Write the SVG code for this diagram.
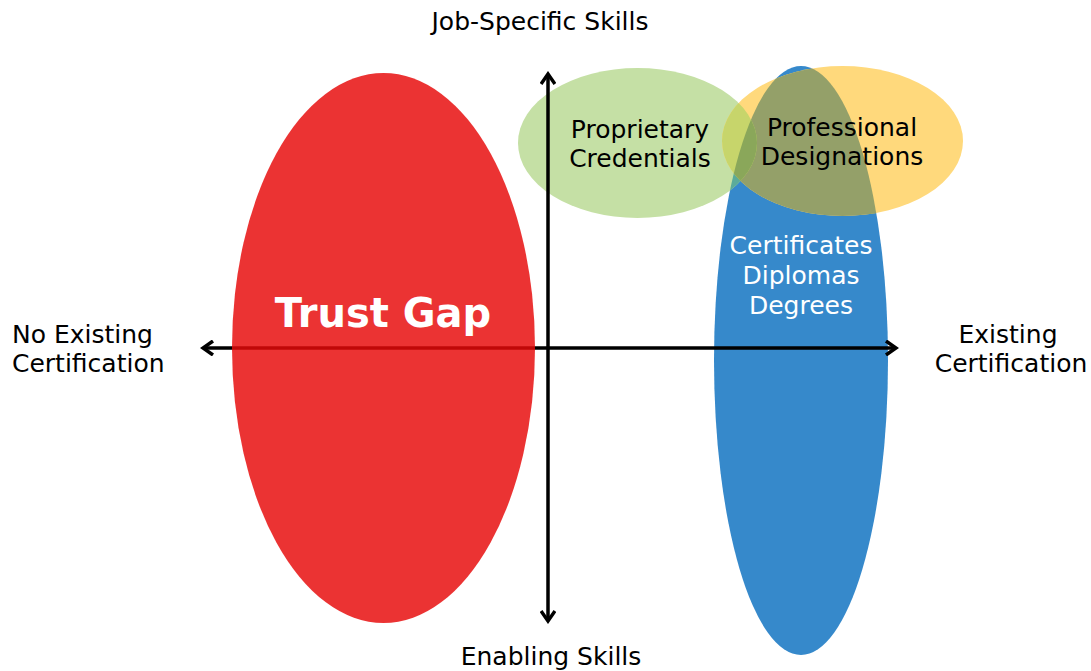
<svg xmlns="http://www.w3.org/2000/svg" width="1091" height="671" viewBox="0 0 1091 671">
<style>
text{font-family:"DejaVu Sans","Liberation Sans",sans-serif;font-size:25px;text-anchor:middle;fill:#000}
.w{fill:#fff}
.axis{stroke:#000;stroke-width:3.5;fill:none}
</style>
<defs>
<marker id="ah" viewBox="0 0 16 16" refX="13" refY="8" markerWidth="16" markerHeight="16" markerUnits="userSpaceOnUse" orient="auto-start-reverse">
<path d="M3,1 L13,8 L3,15" fill="none" stroke="#000" stroke-width="3.5"/>
</marker>
<clipPath id="cBlue"><ellipse cx="801" cy="360.5" rx="87" ry="294.5"/></clipPath>
<clipPath id="cGreen"><ellipse cx="637.5" cy="143" rx="119.5" ry="75"/></clipPath>
<clipPath id="cYellow"><ellipse cx="842.5" cy="141" rx="120.5" ry="75"/></clipPath>
</defs>
<g id="node-blue"><ellipse cx="801" cy="360.5" rx="87" ry="294.5" fill="#3689cb"/></g>
<g id="node-green"><ellipse cx="637.5" cy="143" rx="119.5" ry="75" fill="#c5e0a5"/></g>
<g id="node-yellow"><ellipse cx="842.5" cy="141" rx="120.5" ry="75" fill="#ffd97c"/></g>
<g id="overlaps">
<g clip-path="url(#cBlue)"><ellipse cx="637.5" cy="143" rx="119.5" ry="75" fill="#5bab9a"/><ellipse cx="842.5" cy="141" rx="120.5" ry="75" fill="#94a069"/></g>
<g clip-path="url(#cGreen)"><ellipse cx="842.5" cy="141" rx="120.5" ry="75" fill="#c7d56b"/><g clip-path="url(#cBlue)"><ellipse cx="842.5" cy="141" rx="120.5" ry="75" fill="#8aa75a"/></g></g>
</g>
<g id="connectors">
<line class="axis" x1="203" y1="348" x2="896" y2="348" marker-start="url(#ah)" marker-end="url(#ah)"/>
<line class="axis" x1="548" y1="74" x2="548" y2="621" marker-start="url(#ah)" marker-end="url(#ah)"/>
</g>
<g id="node-red"><ellipse cx="383.5" cy="348" rx="151.5" ry="275" fill="#e70a0a" fill-opacity="0.83"/>
<text x="383" y="327" class="w" style="font-size:40px;font-weight:bold">Trust Gap</text></g>
<g id="labels-green"><text x="640" y="138">Proprietary</text><text x="640" y="167">Credentials</text></g>
<g id="labels-yellow"><text x="842" y="136">Professional</text><text x="842" y="165">Designations</text></g>
<g id="labels-blue"><text x="801" y="254" class="w">Certificates</text><text x="801" y="284" class="w">Diplomas</text><text x="801" y="314" class="w">Degrees</text></g>
<g id="axis-labels">
<text x="540" y="30">Job-Specific Skills</text>
<text x="551" y="665">Enabling Skills</text>
<text x="12" y="343" style="text-anchor:start">No Existing</text>
<text x="12" y="372" style="text-anchor:start">Certification</text>
<text x="1008" y="343">Existing</text>
<text x="1011" y="372">Certification</text>
</g>
</svg>
